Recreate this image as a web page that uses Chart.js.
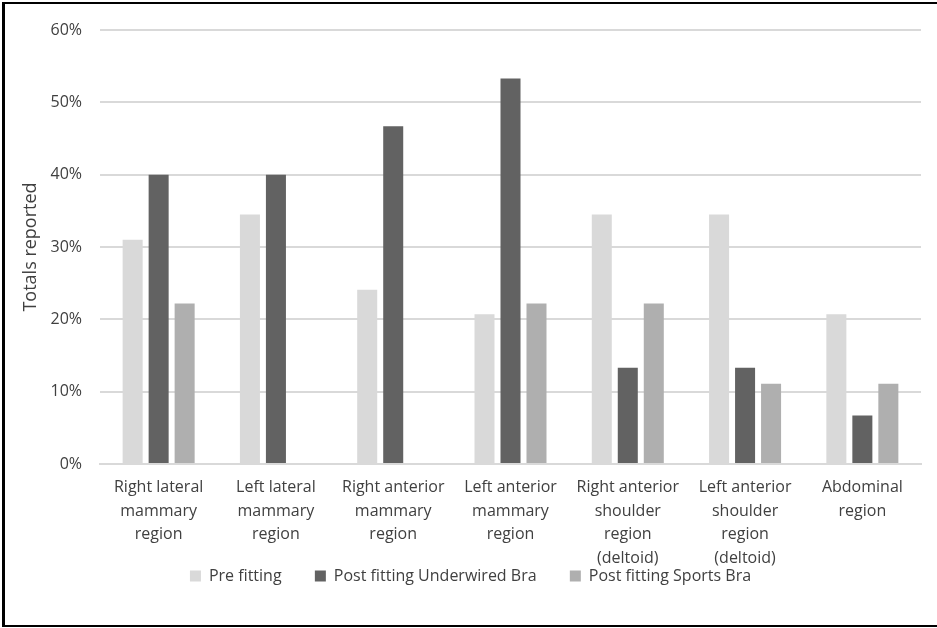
<!DOCTYPE html>
<html>
<head>
<meta charset="utf-8">
<script src="https://cdn.jsdelivr.net/npm/chart.js@4"></script>
<style>
  html, body { margin: 0; padding: 0; background: #fff; overflow: hidden; }
  #wrap { position: relative; width: 937px; height: 628px; overflow: hidden; }
  #frame { position: absolute; left: 2px; top: 2px; width: 960px; height: 621px; border: 2px solid #000; border-left-width: 3px; pointer-events: none; }
  canvas { position: absolute; left: 0; top: 0; }
</style>
</head>
<body>
<div id="wrap">
  <canvas id="regionChart" width="937" height="628"></canvas>
  <div id="frame"></div>
</div>
<script>
const regions = [
    ["Right lateral", "mammary", "region"],
    ["Left lateral", "mammary", "region"],
    ["Right anterior", "mammary", "region"],
    ["Left anterior", "mammary", "region"],
    ["Right anterior", "shoulder", "region", "(deltoid)"],
    ["Left anterior", "shoulder", "region", "(deltoid)"],
    ["Abdominal", "region"]
];
const preFitting = [31.0, 34.5, 24.1, 20.7, 34.5, 34.5, 20.7];
const postUnderwired = [40.0, 40.0, 46.7, 53.3, 13.3, 13.3, 6.7];
const postSports = [22.2, 0, 0, 22.2, 22.2, 11.1, 11.1];
const yTicks = [0, 10, 20, 30, 40, 50, 60];

const textColor = "#404040";
const font = { family: "'Open Sans', sans-serif", size: 16 };
// legend items sit close to the axis labels, so the gap between them comes from trailing spaces
const legendGap = "        ";

document.addEventListener("DOMContentLoaded", function () {
    const ctx = document.getElementById("regionChart").getContext("2d");
    new Chart(ctx, {
        type: "bar",
        data: {
            labels: regions,
            datasets: [{
                label: "Pre fitting",
                data: preFitting,
                backgroundColor: "#d9d9d9"
            }, {
                label: "Post fitting Underwired Bra",
                data: postUnderwired,
                backgroundColor: "#626262"
            }, {
                label: "Post fitting Sports Bra",
                data: postSports,
                backgroundColor: "#afafaf"
            }]
        },
        options: {
            responsive: false,
            animation: false,
            datasets: {
                bar: { categoryPercentage: 0.665, barPercentage: 0.77 }
            },
            layout: { padding: { left: 20, right: 16, top: 30, bottom: 34 } },
            plugins: {
                tooltip: { enabled: false },
                legend: {
                    position: "bottom",
                    labels: {
                        color: textColor,
                        font: font,
                        boxWidth: 11,
                        boxHeight: 11,
                        padding: 0,
                        generateLabels: function (chart) {
                            const items = Chart.defaults.plugins.legend.labels.generateLabels(chart);
                            items.forEach(function (item, i) {
                                if (i < items.length - 1) item.text += legendGap;
                            });
                            return items;
                        }
                    }
                }
            },
            scales: {
                x: {
                    grid: { display: false },
                    border: { color: "#d9d9d9", width: 2 },
                    ticks: {
                        color: textColor,
                        font: { family: font.family, size: 16, lineHeight: 1.47 },
                        padding: 4,
                        maxRotation: 0,
                        autoSkip: false
                    },
                    afterFit: function (scale) { scale.height = 104; }
                },
                y: {
                    min: 0,
                    max: 60,
                    afterBuildTicks: function (scale) {
                        scale.ticks = yTicks.map(function (v) { return { value: v }; });
                    },
                    grid: { color: "#d9d9d9", lineWidth: 2, drawTicks: false },
                    border: { display: false },
                    ticks: {
                        color: textColor,
                        font: font,
                        padding: 18,
                        callback: function (v) { return v + "%"; }
                    },
                    title: {
                        display: true,
                        text: "Totals reported",
                        color: textColor,
                        font: { family: font.family, size: 18 },
                        padding: { top: 0, bottom: 0 }
                    },
                    afterFit: function (scale) { scale.width = 80; }
                }
            }
        }
    });
});
</script>
</body>
</html>
